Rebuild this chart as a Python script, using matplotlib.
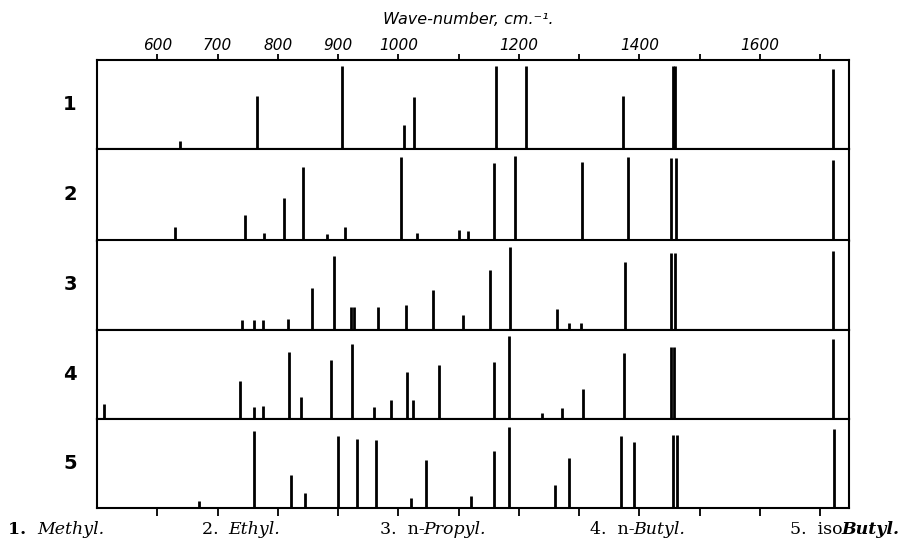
"""
Raman / infrared stick spectra of five alkyl compounds.

Five stacked panels share one wave-number scale (cm-1).
Each vertical stick is one band; its height is the relative intensity.
"""

import matplotlib

matplotlib.use("Agg")
import matplotlib.pyplot as plt

# === DATA ===

# band positions, cm-1, and relative intensities (0..90 scale)
methyl_wn = [638, 766, 907, 1010, 1026, 1162, 1212, 1373, 1456, 1460, 1722]
methyl_int = [8, 53, 83, 24, 52, 83, 83, 53, 83, 83, 80]

ethyl_wn = [630, 745, 777, 811, 842, 882, 912, 1004, 1031, 1100, 1115,
            1159, 1193, 1305, 1381, 1453, 1461, 1721]
ethyl_int = [14, 26, 8, 43, 74, 7, 14, 84, 8, 11, 10,
             78, 85, 79, 84, 83, 83, 81]

propyl_wn = [741, 760, 775, 817, 857, 893, 921, 927, 967, 1013, 1057,
             1107, 1153, 1185, 1263, 1284, 1303, 1377, 1453, 1459, 1722]
propyl_int = [10, 10, 10, 11, 42, 74, 23, 23, 23, 25, 40,
              15, 60, 83, 21, 7, 7, 68, 77, 77, 79]

butyl_wn = [511, 738, 760, 776, 819, 839, 888, 923, 960, 988, 1014,
            1025, 1068, 1159, 1183, 1239, 1271, 1307, 1375, 1453, 1458, 1722]
butyl_int = [15, 38, 12, 13, 67, 22, 59, 75, 12, 19, 47,
             19, 54, 57, 83, 6, 11, 30, 66, 72, 72, 80]

isobutyl_wn = [669, 761, 822, 846, 900, 932, 963, 1021, 1046, 1120,
               1159, 1184, 1260, 1283, 1370, 1391, 1456, 1462, 1723]
isobutyl_int = [7, 77, 33, 15, 72, 69, 68, 10, 48, 12,
                57, 81, 23, 50, 72, 66, 73, 73, 79]

panel_numbers = ["1", "2", "3", "4", "5"]

# axis ticks
tick_positions = list(range(600, 1701, 100))
tick_labels = ["600", "700", "800", "900", "1000", "", "1200", "",
               "1400", "", "1600", ""]

axis_title = "Wave-number, cm.\u207b\u00b9."

# bottom legend: (text, style, weight) pieces
legend_entries = [
    [("1.  ", "normal", "bold"), ("Methyl.", "italic", "normal")],
    [("2.  ", "normal", "normal"), ("Ethyl.", "italic", "normal")],
    [("3.  n-", "normal", "normal"), ("Propyl.", "italic", "normal")],
    [("4.  n-", "normal", "normal"), ("Butyl.", "italic", "normal")],
    [("5.  iso", "normal", "normal"), ("Butyl.", "italic", "bold")],
]

# === LAYOUT (pixels) ===

W, H = 906, 550
LEFT, RIGHT = 97, 849
PANEL_TOPS = [60, 148.5, 240.5, 329.5, 418.5]
PANEL_BOTTOMS = [148.5, 240.5, 329.5, 418.5, 508.3]
LEGEND_X = [8, 202, 380, 590, 790]
LEGEND_Y = 530
LABEL_X = 70

XMIN, XMAX = 500, 1748
FRAME_LW = 1.5
STICK_LW = 2.0


def main() -> None:
    fig = plt.figure(figsize=(W / 100, H / 100), dpi=100)
    fig.patch.set_facecolor("white")

    spectra = [
        (methyl_wn, methyl_int),
        (ethyl_wn, ethyl_int),
        (propyl_wn, propyl_int),
        (butyl_wn, butyl_int),
        (isobutyl_wn, isobutyl_int),
    ]

    for i, (wn, inten) in enumerate(spectra):
        top, bot = PANEL_TOPS[i], PANEL_BOTTOMS[i]
        ax = fig.add_axes(
            [LEFT / W, 1 - bot / H, (RIGHT - LEFT) / W, (bot - top) / H]
        )
        ax.vlines(wn, 0, inten, colors="black", lw=STICK_LW, capstyle="butt")
        ax.set_xlim(XMIN, XMAX)
        ax.set_ylim(0, bot - top)
        ax.set_yticks([])
        for sp in ax.spines.values():
            sp.set_linewidth(FRAME_LW)
            sp.set_color("black")

        if i == 0:
            ax.xaxis.tick_top()
            ax.set_xticks(tick_positions)
            ax.set_xticklabels(tick_labels, fontstyle="italic", fontsize=11)
            ax.tick_params(axis="x", direction="out", length=4, width=1.3, pad=1)
        elif i == len(spectra) - 1:
            ax.set_xticks(tick_positions)
            ax.set_xticklabels([])
            ax.tick_params(axis="x", direction="out", length=6, width=1.3)
        else:
            ax.set_xticks([])

        # panel number on the left
        fig.text(LABEL_X / W, 1 - (top + bot) / 2 / H, panel_numbers[i],
                 fontsize=14, fontweight="bold", ha="center", va="center")

    fig.text(468 / W, 1 - 20 / H, axis_title, fontstyle="italic",
             fontsize=11.5, ha="center", va="center")

    # bottom legend, pieces with mixed styles
    renderer = fig.canvas.get_renderer()
    for x0, pieces in zip(LEGEND_X, legend_entries):
        x = x0
        for text, style, weight in pieces:
            t = fig.text(x / W, 1 - LEGEND_Y / H, text, family="DejaVu Serif",
                         fontsize=12.5, fontstyle=style, fontweight=weight,
                         ha="left", va="center")
            x += t.get_window_extent(renderer).width - 1

    fig.savefig("out.png", dpi=100, facecolor="white")
    plt.close(fig)


if __name__ == "__main__":
    main()
